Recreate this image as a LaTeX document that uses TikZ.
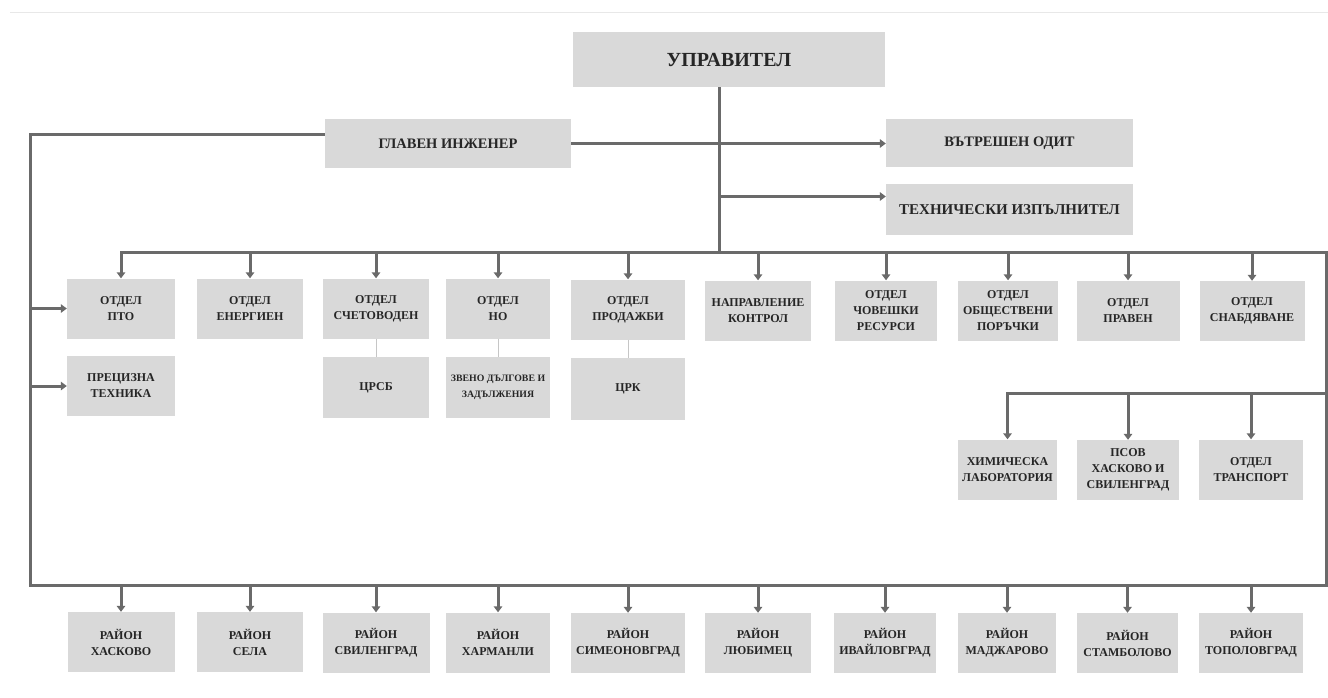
\documentclass[tikz,border=0pt]{standalone}
\usepackage{fontspec}
\setmainfont{Liberation Serif}
\usetikzlibrary{arrows.meta}
\definecolor{boxgray}{HTML}{D9D9D9}
\definecolor{linegray}{HTML}{6A6A6A}
\definecolor{txt}{HTML}{262626}
\definecolor{faint}{HTML}{E8E8E8}
\begin{document}
\begin{tikzpicture}[x=1pt,y=-1pt,
  box/.style={fill=boxgray, inner sep=0pt, align=center, text=txt,
              font=\bfseries\fontsize{12}{16}\selectfont},
  topbox/.style={box, font=\bfseries\fontsize{14.5}{18}\selectfont},
  conn/.style={draw=linegray, line width=3pt},
  arr/.style={conn, -{Triangle[length=6pt,width=8.5pt]}},
  thinline/.style={draw=gray!45, line width=0.8pt}]
\useasboundingbox (0,0) rectangle (1328,698);
\fill[white] (0,0) rectangle (1328,698);
\draw[faint, line width=1pt] (10,13) -- (1328,13);

% top level
\node[box, minimum width=312pt, minimum height=55pt,
      font=\bfseries\fontsize{20}{22}\selectfont] (upr) at (729,59.5) {УПРАВИТЕЛ};
\node[topbox, minimum width=246pt, minimum height=49pt] (ge) at (448,143.5) {ГЛАВЕН ИНЖЕНЕР};
\node[topbox, minimum width=247pt, minimum height=48pt] (vo) at (1009.5,143.5) {ВЪТРЕШЕН ОДИТ};
\node[topbox, minimum width=247pt, minimum height=51pt,
      font=\bfseries\fontsize{15}{18}\selectfont] (tech) at (1009.5,209.5) {ТЕХНИЧЕСКИ ИЗПЪЛНИТЕЛ};

% department row
\node[box, minimum width=108pt, minimum height=60pt] (d1) at (121,308.5) {ОТДЕЛ\\ПТО};
\node[box, minimum width=106pt, minimum height=60pt] (d2) at (250,308.5) {ОТДЕЛ\\ЕНЕРГИЕН};
\node[box, minimum width=106pt, minimum height=60pt] (d3) at (376,308.5) {ОТДЕЛ\\СЧЕТОВОДЕН};
\node[box, minimum width=104pt, minimum height=60pt] (d4) at (498,308.5) {ОТДЕЛ\\НО};
\node[box, minimum width=114pt, minimum height=60pt] (d5) at (628,309.5) {ОТДЕЛ\\ПРОДАЖБИ};
\node[box, minimum width=106pt, minimum height=60pt] (d6) at (758,310.5) {НАПРАВЛЕНИЕ\\КОНТРОЛ};
\node[box, minimum width=102pt, minimum height=60pt] (d7) at (886,310.5) {ОТДЕЛ\\ЧОВЕШКИ\\РЕСУРСИ};
\node[box, minimum width=100pt, minimum height=60pt] (d8) at (1008,310.5) {ОТДЕЛ\\ОБЩЕСТВЕНИ\\ПОРЪЧКИ};
\node[box, minimum width=103pt, minimum height=60pt] (d9) at (1128,310.5) {ОТДЕЛ\\ПРАВЕН};
\node[box, minimum width=105pt, minimum height=60pt] (d10) at (1252,311) {ОТДЕЛ\\СНАБДЯВАНЕ};

% sub row
\node[box, minimum width=108pt, minimum height=60pt] (s1) at (121,386) {ПРЕЦИЗНА\\ТЕХНИКА};
\node[box, minimum width=106pt, minimum height=61pt] (s3) at (376,387.5) {ЦРСБ};
\node[box, minimum width=104pt, minimum height=61pt,
      font=\bfseries\fontsize{9.8}{16}\selectfont] (s4) at (498,387.5) {ЗВЕНО ДЪЛГОВЕ И\\ЗАДЪЛЖЕНИЯ};
\node[box, minimum width=114pt, minimum height=62pt] (s5) at (628,389) {ЦРК};

% chemistry row
\node[box, minimum width=99pt, minimum height=60pt] (c1) at (1007.5,469.5) {ХИМИЧЕСКА\\ЛАБОРАТОРИЯ};
\node[box, minimum width=102pt, minimum height=60pt] (c2) at (1128,470) {ПСОВ\\ХАСКОВО И\\СВИЛЕНГРАД};
\node[box, minimum width=104pt, minimum height=60pt] (c3) at (1251,469.5) {ОТДЕЛ\\ТРАНСПОРТ};

% districts
\node[box, minimum width=107pt, minimum height=60pt] (r1) at (121,642) {РАЙОН\\ХАСКОВО};
\node[box, minimum width=106pt, minimum height=60pt] (r2) at (250,642) {РАЙОН\\СЕЛА};
\node[box, minimum width=107pt, minimum height=60pt] (r3) at (376,642.5) {РАЙОН\\СВИЛЕНГРАД};
\node[box, minimum width=104pt, minimum height=60pt] (r4) at (498,642.5) {РАЙОН\\ХАРМАНЛИ};
\node[box, minimum width=114pt, minimum height=60pt] (r5) at (628,643) {РАЙОН\\СИМЕОНОВГРАД};
\node[box, minimum width=106pt, minimum height=60pt] (r6) at (758,643) {РАЙОН\\ЛЮБИМЕЦ};
\node[box, minimum width=102pt, minimum height=60pt] (r7) at (885,643) {РАЙОН\\ИВАЙЛОВГРАД};
\node[box, minimum width=98pt, minimum height=60pt] (r8) at (1007,643) {РАЙОН\\МАДЖАРОВО};
\node[box, minimum width=101pt, minimum height=60pt] (r9) at (1127.5,643) {РАЙОН\\СТАМБОЛОВО};
\node[box, minimum width=104pt, minimum height=60pt] (r10) at (1251,643) {РАЙОН\\ТОПОЛОВГРАД};

% helper coordinates
\coordinate (bl) at (30,585);
\coordinate (br) at (1326,585);
\coordinate (tr) at (1326,252);
\coordinate (trk) at (719,252);
\coordinate (chem) at (1326,393);
\path ([yshift=13pt]tech.west) coordinate (tw);

% connectors
\draw[conn] ([xshift=-10pt]upr.south) -- (trk);
\draw[arr] (ge.east) -- (vo.west);
\draw[arr] (trk |- tw) -- (tw);
\draw[arr, line join=miter] ([yshift=9pt]ge.west) -| (bl) -- (br) -- (tr) -- (d1.north |- tr) -- (d1.north);
\foreach \n in {d2,d3,d4,d5,d6,d7,d8,d9,d10}
  \draw[arr] (\n.north |- tr) -- (\n.north);
\draw[arr, line join=miter] (chem) -- (c1.north |- chem) -- (c1.north);
\foreach \n in {c2,c3}
  \draw[arr] (\n.north |- chem) -- (\n.north);
\foreach \n in {r1,r2,r3,r4,r5,r6,r7,r8,r9,r10}
  \draw[arr] (\n.north |- br) -- (\n.north);
\draw[arr] (bl |- d1.west) -- (d1.west);
\draw[arr] (bl |- s1.west) -- (s1.west);
\draw[thinline] (d3.south) -- (s3.north);
\draw[thinline] (d4.south) -- (s4.north);
\draw[thinline] (d5.south) -- (s5.north);
\end{tikzpicture}
\end{document}
